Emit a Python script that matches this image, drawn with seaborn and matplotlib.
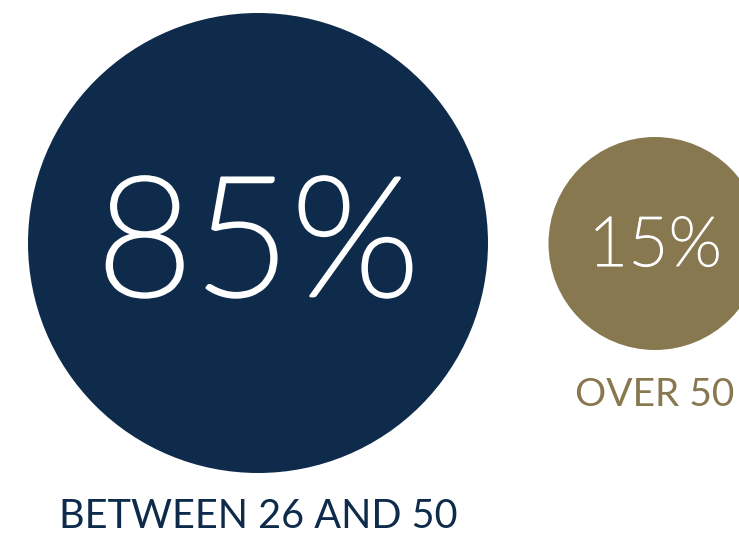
import matplotlib
matplotlib.use("Agg")
import matplotlib.pyplot as plt
from matplotlib import font_manager as fm
import matplotlib.patheffects as pe
import seaborn as sns
import pandas as pd
import os

# Data
categories = ["BETWEEN 26 AND 50", "OVER 50"]
shares = [85, 15]
colors = ["#0E2B4B", "#877850"]

# Layout (pixel coordinates on a 739x534 canvas)
centers_x = [258, 655]
centers_y = [243, 243.5]
diam_px = [460, 213]

sns.set_theme(style="white")
plt.rcParams['font.family'] = ['Lato', 'DejaVu Sans']


def find_font(families, keys):
    for fam in families:
        for f in fm.fontManager.ttflist:
            base = os.path.basename(f.fname).lower()
            if f.name == fam and "italic" not in base and f.style == "normal":
                if any(k in base for k in keys):
                    return fm.FontProperties(fname=f.fname)
    return None


light = find_font(["Lato"], ["-light.", "light."])
if light is None:
    light = find_font(["Roboto", "Open Sans", "Inter"], ["light"])
if light is None:
    light = fm.FontProperties(family="Lato", weight="normal")

fig = plt.figure(figsize=(7.39, 5.34), dpi=100)
ax = fig.add_axes([0, 0, 1, 1])
ax.set_xlim(0, 739)
ax.set_ylim(534, 0)
ax.set_axis_off()

df = pd.DataFrame({"category": categories, "share": shares,
                   "x": centers_x, "y": centers_y,
                   "s": [(d * 72 / 100) ** 2 for d in diam_px]})

sns.scatterplot(data=df, x="x", y="y", hue="category", palette=colors,
                size="category", sizes={c: s for c, s in zip(categories, df["s"])},
                linewidth=0, legend=False, ax=ax)

pct_sizes = [121, 50]
pct_base = [296, 266]
pct_stroke = [2.0, 0.8]
lab_sizes = [28.5, 28]
lab_base = [528, 406]
for i, row in df.iterrows():
    fp = light.copy()
    fp.set_size(pct_sizes[i])
    ax.text(row["x"], pct_base[i], f"{row['share']}%", color="white",
            fontproperties=fp, ha="center", va="baseline",
            path_effects=[pe.withStroke(linewidth=pct_stroke[i], foreground="white")])
    ax.text(row["x"], lab_base[i], row["category"], color=colors[i],
            fontsize=lab_sizes[i], ha="center", va="baseline")

fig.savefig("out.png", dpi=100)
